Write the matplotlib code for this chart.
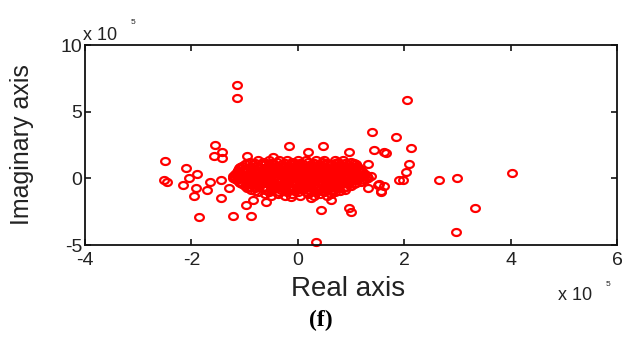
import matplotlib
matplotlib.use('Agg')
import matplotlib.pyplot as plt
import numpy as np
from matplotlib.path import Path

plt.rcParams['font.family'] = ['Liberation Sans', 'DejaVu Sans']
plt.rcParams['axes.unicode_minus'] = False

# Valores en unidades de 1e5
# Nube densa alrededor del origen, por filas (parte imaginaria, partes reales)
blob_rows = [
    (1.35, [-0.75, -0.55, -0.35, -0.2, 0.0, 0.15, 0.35, 0.5, 0.7, 0.85]),
    (1.2, [-0.9, -0.65, -0.4, -0.1, 0.2, 0.45, 0.75, 1.0]),
    (1.12, [-0.95, -0.8, -0.6, -0.5, -0.25, -0.05, 0.05, 0.3, 0.55, 0.7, 0.88, 1.05]),
    (1.05, [-1.0, -0.85, -0.7, -0.55, -0.45, -0.3, -0.15, 0.0, 0.1, 0.25, 0.4, 0.5, 0.65, 0.8, 0.95, 1.1]),
    (0.9, [-1.05, -0.78, -0.52, -0.28, -0.02, 0.22, 0.47, 0.72, 0.98, 1.12]),
    (0.82, [-1.08, -0.9, -0.72, -0.58, -0.42, -0.25, -0.12, 0.1, 0.25, 0.36, 0.52, 0.78, 0.85, 1.0, 1.12]),
    (0.75, [-1.1, -0.95, -0.85, -0.7, -0.6, -0.45, -0.35, -0.2, -0.1, 0.05, 0.15, 0.3, 0.4, 0.55, 0.65, 0.8, 0.9, 1.05, 1.15]),
    (0.6, [-1.12, -0.82, -0.58, -0.32, -0.08, 0.18, 0.42, 0.68, 0.92, 1.16]),
    (0.52, [-1.12, -0.95, -0.78, -0.62, -0.45, -0.28, -0.12, 0.05, 0.22, 0.3, 0.55, 0.65, 0.8, 0.95, 1.05, 1.2]),
    (0.45, [-1.15, -1.0, -0.9, -0.75, -0.65, -0.5, -0.4, -0.25, -0.15, 0.0, 0.1, 0.25, 0.35, 0.5, 0.6, 0.75, 0.85, 1.0, 1.1, 1.2]),
    (0.3, [-1.18, -0.88, -0.62, -0.36, -0.12, 0.12, 0.38, 0.62, 0.88, 1.14, 1.26]),
    (0.22, [-1.15, -1.0, -0.85, -0.68, -0.5, -0.32, -0.18, 0.0, 0.18, 0.35, 0.5, 0.68, 0.85, 1.0, 1.1, 1.22]),
    (0.15, [-1.2, -1.05, -0.95, -0.8, -0.7, -0.55, -0.45, -0.3, -0.2, -0.05, 0.05, 0.2, 0.3, 0.45, 0.55, 0.7, 0.8, 0.95, 1.05, 1.2, 1.3]),
    (0.0, [-1.22, -0.92, -0.62, -0.36, -0.1, 0.15, 0.4, 0.65, 0.9, 1.15, 1.32]),
    (-0.08, [-1.18, -1.02, -0.85, -0.7, -0.52, -0.35, -0.2, -0.02, 0.18, 0.32, 0.48, 0.65, 0.8, 0.98, 1.12, 1.28]),
    (-0.15, [-1.15, -1.0, -0.9, -0.75, -0.65, -0.5, -0.4, -0.25, -0.15, 0.0, 0.1, 0.25, 0.35, 0.5, 0.6, 0.75, 0.85, 1.0, 1.1, 1.25]),
    (-0.3, [-1.1, -0.85, -0.6, -0.35, -0.1, 0.15, 0.4, 0.65, 0.9, 1.18]),
    (-0.38, [-1.08, -0.9, -0.75, -0.58, -0.42, -0.25, -0.08, 0.1, 0.25, 0.42, 0.58, 0.75, 0.92, 1.1]),
    (-0.45, [-1.05, -0.95, -0.8, -0.7, -0.55, -0.45, -0.3, -0.2, -0.05, 0.05, 0.2, 0.3, 0.45, 0.55, 0.7, 0.8, 0.95, 1.05]),
    (-0.6, [-1.0, -0.72, -0.48, -0.22, 0.02, 0.28, 0.52, 0.78, 1.0]),
    (-0.68, [-0.92, -0.78, -0.6, -0.45, -0.3, -0.12, 0.05, 0.2, 0.38, 0.55, 0.7, 0.9]),
    (-0.75, [-0.95, -0.8, -0.65, -0.5, -0.4, -0.25, -0.15, 0.0, 0.1, 0.25, 0.35, 0.5, 0.6, 0.75, 0.85]),
    (-0.9, [-0.88, -0.62, -0.32, -0.1, 0.2, 0.4, 0.65, 0.88]),
    (-0.98, [-0.8, -0.5, -0.25, -0.05, 0.25, 0.45, 0.62, 0.8]),
    (-1.05, [-0.75, -0.55, -0.35, -0.2, 0.0, 0.15, 0.35, 0.5, 0.7]),
    (-1.2, [-0.62, -0.38, -0.1, 0.2, 0.42, 0.62]),
    (-1.3, [-0.5, -0.25, 0.05, 0.3, 0.55]),
]

# Puntos dispersos
outlier_re = [-1.15, -1.15, 2.05, -1.55, -1.42, -1.58, -1.42, -2.5, -0.95, -2.1,
              -1.9, -2.05, -2.52, -2.45, -2.15, -1.92, -1.65, -1.45, -1.7, -1.95,
              -1.45, -1.3, -1.22, -1.85, -1.22, -0.88, -0.98, -0.85, -0.6, 1.4,
              -0.17, 0.47, 0.19, 1.43, 1.62, 0.96, -0.47, 1.32, 1.53, 1.57,
              1.32, 0.43, 0.96, 1.0, 0.34, -0.13, 0.25, 0.62, 1.85, 2.13,
              1.66, 2.09, 2.04, 1.98, 1.9, 1.38, 1.5, 1.62, 1.57, 2.66,
              3.0, 3.33, 2.98, 4.02]
outlier_im = [7.0, 6.0, 5.9, 2.5, 1.95, 1.65, 1.5, 1.3, 1.7, 0.8,
              0.3, 0.0, -0.15, -0.25, -0.5, -0.75, -0.3, -0.15, -0.9, -1.3,
              -1.5, -0.75, 0.2, -2.9, -2.85, -2.85, -2.0, -1.65, -1.8, 3.45,
              2.4, 2.4, 1.95, 2.1, 1.95, 1.95, 1.6, 1.05, -0.4, -1.05,
              -0.7, -2.4, -2.2, -2.55, -4.75, -1.4, -1.45, -1.6, 3.1, 2.25,
              1.9, 1.1, 0.45, -0.15, -0.1, 0.2, -0.5, -0.6, -0.95, -0.15,
              0.0, -2.25, -4.0, 0.4]

x_ticks = [-4, -2, 0, 2, 4, 6]
y_ticks = [-5, 0, 5, 10]

blob_re = [x for y, xs in blob_rows for x in xs]
blob_im = [y for y, xs in blob_rows for x in xs]
all_re = blob_re + outlier_re
all_im = blob_im + outlier_im

# marcador eliptico (la figura original esta estirada en horizontal)
t = np.linspace(0, 2 * np.pi, 40)
ellipse = Path(np.column_stack([1.25 * np.cos(t), np.sin(t)]), closed=True)

fig = plt.figure(figsize=(6.22, 3.38), dpi=100)
ax = fig.add_axes([85 / 622, 1 - 245 / 338, 532 / 622, 200 / 338])

ax.plot(all_re, all_im, linestyle='none', marker=ellipse, markersize=6.3,
        markerfacecolor='none', markeredgecolor='#ff0000', markeredgewidth=1.6,
        clip_on=False)

ax.set_xlim(-4, 6)
ax.set_ylim(-5, 10)
ax.set_xticks(x_ticks)
ax.set_yticks(y_ticks)
ax.set_xticklabels([str(v) for v in x_ticks])
ax.set_yticklabels([str(v) for v in y_ticks])

txt_color = '#222222'
ax.tick_params(direction='in', top=True, right=True, length=4, width=1.1,
               labelsize=14, labelcolor=txt_color)
ax.tick_params(axis='x', pad=5)
ax.tick_params(axis='y', pad=2)
for s in ax.spines.values():
    s.set_linewidth(1.3)
    s.set_color('#111111')

ax.set_xlabel('Real axis', fontsize=20, color=txt_color)
ax.set_ylabel('Imaginary axis', fontsize=18, color=txt_color)
ax.xaxis.set_label_coords(0.494, -0.155)
ax.yaxis.set_label_coords(-0.095, 0.5)

# factores de escala estilo MATLAB
fig.text(83 / 622, 1 - 35 / 338, 'x 10', fontsize=13, color=txt_color,
         ha='left', va='center')
fig.text(131 / 622, 1 - 22 / 338, '5', fontsize=6, color=txt_color,
         ha='left', va='center')
fig.text(558 / 622, 1 - 296 / 338, 'x 10', fontsize=13, color=txt_color,
         ha='left', va='center')
fig.text(606 / 622, 1 - 284 / 338, '5', fontsize=6, color=txt_color,
         ha='left', va='center')

fig.text(321 / 622, 1 - 320 / 338, '(f)', fontsize=17, fontweight='bold',
         family=['Liberation Serif', 'DejaVu Serif'], color='black',
         ha='center', va='center')

fig.savefig('out.png', dpi=100)
